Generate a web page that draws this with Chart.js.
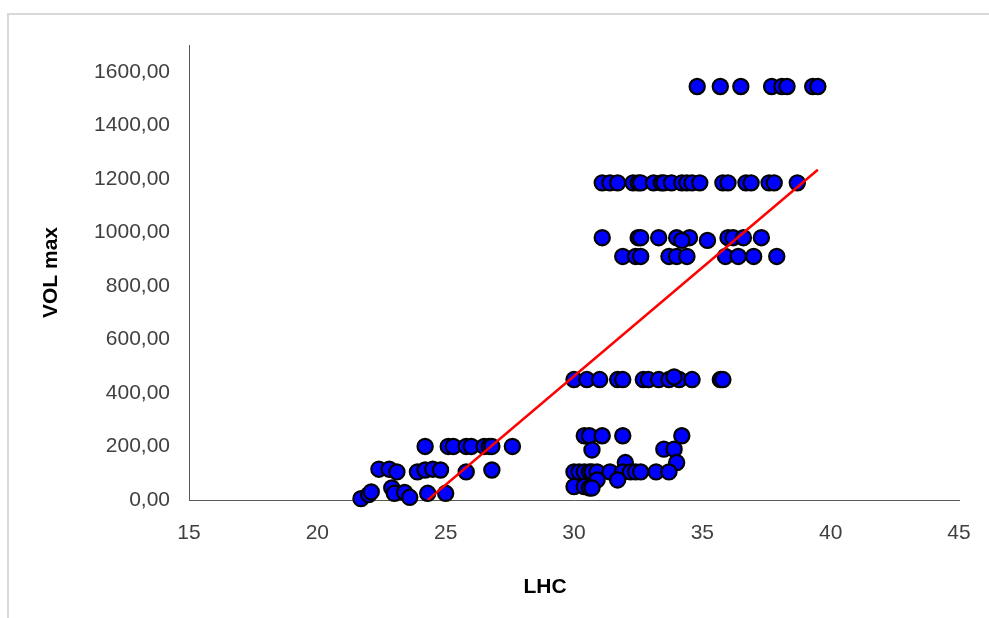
<!DOCTYPE html>
<html>
<head>
<meta charset="utf-8">
<script src="https://cdn.jsdelivr.net/npm/chart.js@4/dist/chart.umd.min.js"></script>
<style>
  html, body { margin: 0; padding: 0; background: #fff; overflow: hidden; }
  #frame { position: absolute; left: 7px; top: 13px; width: 1000px; height: 700px; border: 2px solid #d9d9d9; }
  #wrap { position: absolute; left: 0; top: 0; width: 989px; height: 618px; }
</style>
</head>
<body>
<div id="frame"></div>
<div id="wrap"><canvas id="chart" width="989" height="618"></canvas></div>
<script>
// --- data ---
const lhc = [
  // top row
  34.8, 35.7, 36.5, 37.7, 38.1, 38.3, 39.3, 39.5,
  // ~1185
  31.1, 31.4, 31.7, 32.3, 32.5, 32.6, 33.1, 33.4, 33.5, 33.8, 34.2, 34.4, 34.6, 34.9, 35.8, 36.0, 36.7, 36.9, 37.6, 37.8, 38.7,
  // ~980
  31.1, 32.5, 32.6, 33.3, 34.0, 34.5, 36.0, 36.2, 36.6, 37.3, 34.2, 35.2,
  // ~910
  31.9, 32.4, 32.6, 33.7, 34.0, 34.4, 35.9, 36.4, 37.0, 37.9,
  // ~450
  30.0, 30.5, 31.0, 31.7, 31.9, 32.7, 32.9, 33.3, 33.7, 34.1, 34.6, 35.7, 35.8, 33.9,
  // low, left group
  24.2, 25.1, 25.3, 25.8, 26.0, 26.5, 26.7, 26.8, 27.6,
  22.4, 22.8, 23.1, 23.9, 24.2, 24.5, 24.8, 25.8, 26.8,
  21.7, 22.0, 22.1, 22.9, 23.0, 23.4, 23.6, 24.3, 25.0,
  // low, right group
  30.4, 30.6, 31.1, 31.9, 34.2,
  30.7, 33.5, 33.9, 34.0, 32.0,
  30.0, 30.2, 30.4, 30.6, 30.7, 30.9, 31.4, 31.9, 32.2, 32.4, 32.6, 33.2, 33.7,
  31.7, 30.9,
  30.0, 30.4, 30.6, 30.7,
]
const volMax = [
  1545, 1545, 1545, 1545, 1545, 1545, 1545, 1545,
  1185, 1185, 1185, 1185, 1185, 1185, 1185, 1185, 1185, 1185, 1185, 1185, 1185, 1185, 1185, 1185, 1185, 1185, 1185, 1185, 1185,
  980, 980, 980, 980, 980, 980, 980, 980, 980, 980, 970, 970,
  910, 910, 910, 910, 910, 910, 910, 910, 910, 910,
  450, 450, 450, 450, 450, 450, 450, 450, 450, 450, 450, 450, 450, 460,
  200, 200, 200, 200, 200, 200, 200, 200, 200,
  115, 115, 105, 105, 112, 115, 112, 105, 112,
  5, 20, 30, 45, 25, 28, 10, 25, 25,
  240, 240, 240, 240, 240,
  187, 190, 190, 140, 140,
  105, 105, 105, 105, 105, 105, 105, 105, 105, 105, 105, 105, 105,
  75, 75,
  50, 50, 45, 45,
]
// linear trend line end points
const trendX = [24.3, 39.5]
const trendY = [0, 1234]

const xTicks = [15, 20, 25, 30, 35, 40, 45]
const yTicks = [0, 200, 400, 600, 800, 1000, 1200, 1400, 1600]

const xTitle = "LHC"
const yTitle = "VOL max"

const points = lhc.map((x, i) => ({ x: x, y: volMax[i] }))
const trend = trendX.map((x, i) => ({ x: x, y: trendY[i] }))

const FONT = '"Liberation Sans", Arial, sans-serif'

// x axis title sits left of the plot centre in the original, so draw it here
const xTitlePlugin = {
  id: "xTitle",
  afterDraw: (chart) => {
    const ctx = chart.ctx
    ctx.save()
    ctx.font = "bold 21px " + FONT
    ctx.fillStyle = "#000000"
    ctx.textAlign = "center"
    ctx.textBaseline = "middle"
    ctx.fillText(xTitle, 545, 587)
    ctx.restore()
  },
}

new Chart(document.getElementById("chart"), {
  type: "scatter",
  plugins: [xTitlePlugin],
  data: {
    datasets: [
      {
        data: points,
        backgroundColor: "#0000ff",
        borderColor: "#000000",
        borderWidth: 2.2,
        pointRadius: 7.6,
        clip: false,
        order: 2,
      },
      {
        type: "line",
        data: trend,
        borderColor: "#ff0000",
        borderWidth: 2.5,
        pointRadius: 0,
        fill: false,
        order: 1,
      },
    ],
  },
  options: {
    responsive: false,
    animation: false,
    layout: { padding: { left: 0, top: 45, right: 30, bottom: 0 } },
    plugins: { legend: { display: false }, tooltip: { enabled: false } },
    scales: {
      x: {
        type: "linear",
        min: 15,
        max: 45,
        afterBuildTicks: (s) => { s.ticks = xTicks.map((v) => ({ value: v })) },
        afterFit: (s) => { s.height = 118 },
        grid: { display: false },
        border: { display: true, color: "#595959", width: 1 },
        ticks: { color: "#404040", padding: 13, font: { family: FONT, size: 21 } },
      },
      y: {
        type: "linear",
        min: 0,
        max: 1700,
        afterBuildTicks: (s) => { s.ticks = yTicks.map((v) => ({ value: v })) },
        afterFit: (s) => { s.width = 189 },
        grid: { display: false },
        border: { display: true, color: "#595959", width: 1 },
        ticks: {
          color: "#404040",
          padding: 11,
          font: { family: FONT, size: 21 },
          callback: (v) => v.toFixed(2).replace(".", ","),
        },
        title: {
          display: true,
          text: yTitle,
          color: "#000000",
          font: { family: FONT, size: 21, weight: "bold" },
          padding: { top: 39, bottom: 0 },
        },
      },
    },
  },
})
</script>
</body>
</html>
